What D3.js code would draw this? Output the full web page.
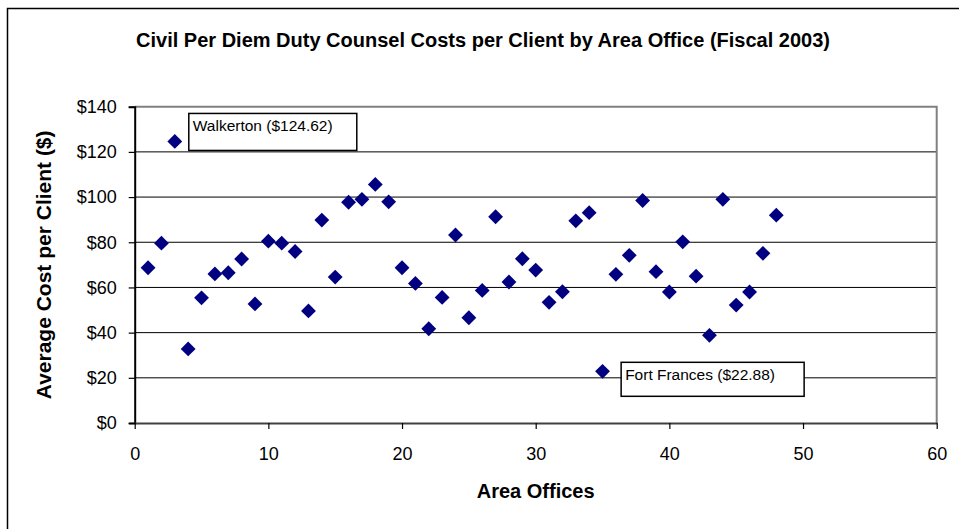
<html>
<script src='https://d3js.org/d3.v7.min.js'></script>
<style>
    body { margin: 0; background: white; }
    text { font-family: "Liberation Sans", Arial, sans-serif; }
</style>
<body>
<div id="chart"></div>
<script>
    // area office index and cost per client
    var offices = d3.range(1, 49);
    var costs = [68.7, 79.6, 124.62, 32.8, 55.4, 66.0, 66.5, 72.6, 52.7, 80.5,
                 79.6, 75.9, 49.6, 89.8, 64.6, 97.7, 99.0, 105.6, 97.9, 68.7,
                 61.8, 41.7, 55.6, 83.2, 46.6, 58.7, 91.3, 62.4, 72.7, 67.7,
                 53.4, 58.1, 89.5, 93.1, 22.88, 65.8, 74.2, 98.5, 67.0, 58.0,
                 80.2, 65.0, 38.8, 99.0, 52.2, 58.0, 75.1, 92.0];
    var xTicks = [0, 10, 20, 30, 40, 50, 60];
    var yTicks = [0, 20, 40, 60, 80, 100, 120, 140];
    var callouts = [
        { office: 3, label: "Walkerton ($124.62)" },
        { office: 35, label: "Fort Frances ($22.88)" }
    ];

    const width = 959, height = 529;
    const plotL = 134.7, plotR = 936.7, plotT = 106.7, plotB = 423;

    const svg = d3.select("#chart").append("svg")
        .attr("width", width)
        .attr("height", height);

    // outer chart border (runs off right and bottom)
    svg.append("path")
        .attr("d", `M7.5,${height + 2} V8.5 H${width + 2}`)
        .attr("fill", "none")
        .attr("stroke", "black")
        .attr("stroke-width", 1.5);

    const x = d3.scaleLinear().domain([0, 60]).range([plotL, plotR]);
    const y = d3.scaleLinear().domain([0, 140]).range([plotB, plotT]);

    // gridlines
    svg.append("g")
        .selectAll("line")
        .data(yTicks.filter(d => d > 0 && d < 140))
        .enter()
        .append("line")
        .attr("x1", plotL).attr("x2", plotR)
        .attr("y1", d => y(d)).attr("y2", d => y(d))
        .attr("stroke", "black")
        .attr("stroke-width", 1);

    // grey plot border top/right
    svg.append("path")
        .attr("d", `M${plotL},${plotT} H${plotR} V${plotB}`)
        .attr("fill", "none")
        .attr("stroke", "#808080")
        .attr("stroke-width", 2);

    // y axis
    const yAxis = svg.append("g")
        .attr("transform", `translate(${plotL},0)`)
        .call(d3.axisLeft(y).tickValues(yTicks).tickSize(6).tickPadding(12).tickFormat(d => "$" + d));
    yAxis.select(".domain").attr("stroke", "black").attr("stroke-width", 2);
    yAxis.selectAll(".tick line").attr("stroke", "black").attr("stroke-width", 1.2);
    yAxis.selectAll("text").style("font-size", "18px").attr("fill", "black");

    // x axis
    const xAxis = svg.append("g")
        .attr("transform", `translate(0,${plotB})`)
        .call(d3.axisBottom(x).tickValues(xTicks).tickSize(6).tickPadding(18).tickSizeOuter(0));
    xAxis.select(".domain").attr("stroke", "#404040").attr("stroke-width", 2);
    xAxis.selectAll(".tick line").attr("stroke", "black").attr("stroke-width", 1.2);
    xAxis.selectAll("text").style("font-size", "18px").attr("fill", "black");

    // markers
    const diamond = d3.symbol().type(d3.symbolSquare).size(110);
    svg.append("g")
        .selectAll("path")
        .data(offices)
        .enter()
        .append("path")
        .attr("d", diamond)
        .attr("transform", (d, i) => `translate(${x(d)},${y(costs[i])}) rotate(45)`)
        .attr("fill", "#000080");

    // callout boxes
    const boxes = [
        { dx: 14, dy: -28, w: 168, h: 37 },
        { dx: 18.6, dy: -9, w: 183, h: 34 }
    ];
    callouts.forEach((c, k) => {
        const px = x(c.office), py = y(costs[c.office - 1]);
        const b = boxes[k];
        svg.append("rect")
            .attr("x", px + b.dx).attr("y", py + b.dy)
            .attr("width", b.w).attr("height", b.h)
            .attr("fill", "white")
            .attr("stroke", "black")
            .attr("stroke-width", 1.5);
        svg.append("text")
            .attr("x", px + b.dx + 4)
            .attr("y", py + b.dy + 17.5)
            .style("font-size", "15.5px")
            .text(c.label);
    });

    // title
    svg.append("text")
        .attr("x", 483).attr("y", 47)
        .attr("text-anchor", "middle")
        .style("font-size", "20px")
        .style("font-weight", "bold")
        .text("Civil Per Diem Duty Counsel Costs per Client by Area Office (Fiscal 2003)");

    // axis titles
    svg.append("text")
        .attr("x", (plotL + plotR) / 2).attr("y", 498)
        .attr("text-anchor", "middle")
        .style("font-size", "20px")
        .style("font-weight", "bold")
        .text("Area Offices");

    svg.append("text")
        .attr("transform", `translate(51,${(plotT + plotB) / 2}) rotate(-90)`)
        .attr("text-anchor", "middle")
        .style("font-size", "21px")
        .style("font-weight", "bold")
        .text("Average Cost per Client ($)");
</script>
</body>
</html>
